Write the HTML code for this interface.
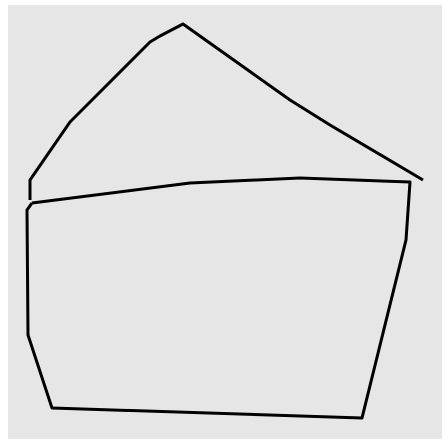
<!DOCTYPE html>
<html><head><style>body{margin:0;background:#fff}svg{display:block}</style></head>
<body>
<svg width="448" height="448">
<rect x="8" y="5" width="434" height="434" fill="#e6e6e6"/>
<polyline fill="none" stroke="#000" stroke-width="3" stroke-linejoin="round" points="30,200 30,180 70,122 150,42 160,36 183,24 290,100 330,125 423,180"/>
<polyline fill="none" stroke="#000" stroke-width="3" stroke-linejoin="round" points="32,203 190,183 300,178 410,182 406,240 362,418 52,408 28,335 27,210 32,203"/>
</svg>
</body></html>
